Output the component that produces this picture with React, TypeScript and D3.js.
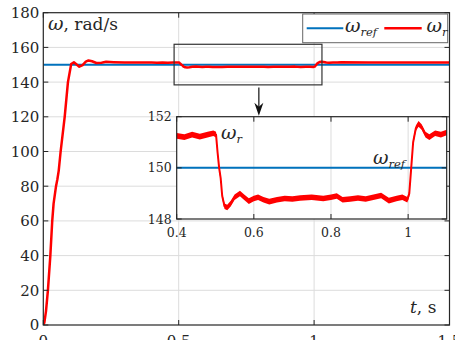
import React from 'react';
import * as d3 from 'd3';

// measured rotor speed (rad/s) vs time (s)
const timeS = [
  0, 0.004, 0.01, 0.017, 0.026, 0.033, 0.038, 0.047, 0.052, 0.057, 0.064, 0.079, 0.091,
  0.103, 0.113, 0.122, 0.133, 0.145, 0.157, 0.167, 0.18, 0.196, 0.215, 0.232, 0.26, 0.3, 0.35,
  0.4, 0.42, 0.44, 0.46, 0.48, 0.495, 0.502, 0.506, 0.51, 0.514, 0.518, 0.524, 0.531, 0.54,
  0.55, 0.564, 0.575, 0.587, 0.6, 0.611, 0.625, 0.64, 0.66, 0.68, 0.7, 0.72, 0.75, 0.78, 0.8,
  0.815, 0.83, 0.85, 0.87, 0.89, 0.91, 0.93, 0.95, 0.97, 0.985, 0.998, 1.003, 1.008, 1.013,
  1.02, 1.027, 1.035, 1.045, 1.055, 1.07, 1.085, 1.1, 1.2, 1.3, 1.4, 1.5,
];
const omegaR = [
  0, 1.5, 8, 20, 40, 60, 70, 80, 84, 89, 100, 120, 140,
  150.4, 151.4, 150.3, 148.9, 149.8, 151.8, 152.5, 152.0, 151.0, 151.2, 151.7, 151.5, 151.3, 151.3,
  151.25, 151.2, 151.3, 151.22, 151.3, 151.35, 151.3, 150.6, 150.0, 149.6, 148.9, 148.5, 148.45, 148.6,
  148.85, 149.0, 148.85, 148.7, 148.8, 148.85, 148.75, 148.68, 148.75, 148.8, 148.78, 148.82, 148.85, 148.8, 148.85,
  148.9, 148.75, 148.78, 148.82, 148.78, 148.85, 148.92, 148.72, 148.8, 148.85, 148.75, 149.0, 150.0, 151.0,
  151.55, 151.72, 151.6, 151.3, 151.2, 151.35, 151.3, 151.38, 151.3, 151.3, 151.3, 151.3,
];
const refTime = [0, 1.5];
const omegaRef = [150, 150];

const xTicks = [0, 0.5, 1, 1.5];
const xTickLabels = ['0', '0.5', '1', '1.5'];
const yTicks = [0, 20, 40, 60, 80, 100, 120, 140, 160, 180];
const insetXTicks = [0.4, 0.6, 0.8, 1];
const insetXTickLabels = ['0.4', '0.6', '0.8', '1'];
const insetYTicks = [148, 150, 152];
const zoomTime = [0.483, 1.029];
const zoomOmega = [138.4, 161.8];

const W = 455;
const H = 340;
const main = { left: 43.3, right: 449.5, top: 12.7, bottom: 325 };
const inset = { left: 176.7, right: 446.7, top: 116.7, bottom: 219 };

const FONT = "'DejaVu Serif', serif";
const BLUE = '#0072BD';
const RED = '#FF0000';
const GRID = '#dcdcdc';
const INK = '#262626';

const App = () => {
  const x = d3.scaleLinear().domain([0, 1.5]).range([main.left, main.right]);
  const y = d3.scaleLinear().domain([0, 180]).range([main.bottom, main.top]);
  const xi = d3.scaleLinear().domain([0.4, 1.1]).range([inset.left, inset.right]);
  const yi = d3.scaleLinear().domain([148, 152]).range([inset.bottom, inset.top]);

  const pts = timeS.map((t, i) => [t, omegaR[i]] as [number, number]);
  const refPts = refTime.map((t, i) => [t, omegaRef[i]] as [number, number]);

  const mainLine = d3.line<[number, number]>().x(d => x(d[0])).y(d => y(d[1]));
  const insetLine = d3.line<[number, number]>().x(d => xi(d[0])).y(d => yi(d[1]));
  // thick band that stands in for the ripple on the measured signal
  const insetBand = d3.area<[number, number]>()
    .x(d => xi(d[0]))
    .y0(d => yi(d[1]) - 2.8)
    .y1(d => yi(d[1]) + 2.8);

  const tk = 5;
  const arrowX = x(0.796);
  const arrowY1 = y(zoomOmega[0]) + 2.5;
  const arrowY2 = inset.top - 1;

  return (
    <svg width={W} height={H} style={{ position: 'absolute', left: 0, top: 0, fontFamily: FONT }}>
      <defs>
        <clipPath id="mainClip">
          <rect x={main.left} y={main.top} width={main.right - main.left} height={main.bottom - main.top} />
        </clipPath>
        <clipPath id="insetClip">
          <rect x={inset.left} y={inset.top} width={inset.right - inset.left} height={inset.bottom - inset.top} />
        </clipPath>
      </defs>
      <rect width={W} height={H} fill="#fff" />

      {/* main grid */}
      {yTicks.slice(1, -1).map(v => (
        <line key={'gy' + v} x1={main.left} x2={main.right} y1={y(v)} y2={y(v)} stroke={GRID} strokeWidth={1} />
      ))}
      {xTicks.slice(1, -1).map(v => (
        <line key={'gx' + v} x1={x(v)} x2={x(v)} y1={main.top} y2={main.bottom} stroke={GRID} strokeWidth={1} />
      ))}

      {/* main series */}
      <g clipPath="url(#mainClip)">
        <path d={mainLine(refPts) || ''} fill="none" stroke={BLUE} strokeWidth={2} />
        <path d={mainLine(pts) || ''} fill="none" stroke={RED} strokeWidth={2.5} strokeLinejoin="round" />
      </g>

      {/* main box and ticks */}
      <rect x={main.left} y={main.top} width={main.right - main.left} height={main.bottom - main.top}
        fill="none" stroke={INK} strokeWidth={1.2} />
      {yTicks.map(v => (
        <g key={'ty' + v}>
          <line x1={main.left} x2={main.left + tk} y1={y(v)} y2={y(v)} stroke={INK} />
          <line x1={main.right} x2={main.right - tk} y1={y(v)} y2={y(v)} stroke={INK} />
          <text x={main.left - 4} y={y(v)} dy="0.36em" textAnchor="end" fontSize={15} fill={INK}>{v}</text>
        </g>
      ))}
      {xTicks.map((v, i) => (
        <g key={'tx' + v}>
          <line x1={x(v)} x2={x(v)} y1={main.bottom} y2={main.bottom - tk} stroke={INK} />
          <line x1={x(v)} x2={x(v)} y1={main.top} y2={main.top + tk} stroke={INK} />
          <text x={x(v)} y={main.bottom + 21} textAnchor="middle" fontSize={15} fill={INK}>{xTickLabels[i]}</text>
        </g>
      ))}

      {/* axis captions */}
      <text x={48} y={30} fontSize={17} fill={INK}>
        <tspan fontStyle="italic" fontSize={19}>ω</tspan>, rad/s
      </text>
      <text x={410} y={313} fontSize={17} fill={INK}>
        <tspan fontStyle="italic">t</tspan>, s
      </text>

      {/* legend */}
      <rect x={302.7} y={14} width={145} height={28.7} fill="#fff" stroke="#666" strokeWidth={1} />
      <line x1={306.7} x2={343.3} y1={28.3} y2={28.3} stroke={BLUE} strokeWidth={2} />
      <text x={345} y={32} fontSize={19} fontStyle="italic" fill={INK}>
        ω<tspan fontSize={11.5} dy={4}>ref</tspan>
      </text>
      <line x1={384.3} x2={421.7} y1={28.3} y2={28.3} stroke={RED} strokeWidth={2.5} />
      <text x={426.5} y={32} fontSize={19} fontStyle="italic" fill={INK}>
        ω<tspan fontSize={11.5} dy={4}>r</tspan>
      </text>

      {/* zoom region and arrow */}
      <rect x={x(zoomTime[0])} y={y(zoomOmega[1])} width={x(zoomTime[1]) - x(zoomTime[0])}
        height={y(zoomOmega[0]) - y(zoomOmega[1])} fill="none" stroke="#333" strokeWidth={1.2} />
      <line x1={arrowX} x2={arrowX} y1={arrowY1} y2={arrowY2 - 8} stroke="#111" strokeWidth={1.2} />
      <path d={`M${arrowX},${arrowY2} L${arrowX - 4.5},${arrowY2 - 13} L${arrowX},${arrowY2 - 9} L${arrowX + 4.5},${arrowY2 - 13} Z`}
        fill="#111" />

      {/* inset */}
      <rect x={inset.left} y={inset.top} width={inset.right - inset.left} height={inset.bottom - inset.top} fill="#fff" />
      {insetXTicks.slice(1).map(v => (
        <line key={'igx' + v} x1={xi(v)} x2={xi(v)} y1={inset.top} y2={inset.bottom} stroke={GRID} strokeWidth={1} />
      ))}
      <line x1={inset.left} x2={inset.right} y1={yi(150)} y2={yi(150)} stroke={GRID} strokeWidth={1} />
      <g clipPath="url(#insetClip)">
        <path d={insetLine(refPts) || ''} fill="none" stroke={BLUE} strokeWidth={2} />
        <path d={insetBand(pts) || ''} fill={RED} stroke="none" />
        <path d={insetLine(pts) || ''} fill="none" stroke={RED} strokeWidth={2} strokeLinejoin="round" />
      </g>
      <rect x={inset.left} y={inset.top} width={inset.right - inset.left} height={inset.bottom - inset.top}
        fill="none" stroke={INK} strokeWidth={1.2} />
      {insetYTicks.map(v => (
        <g key={'ity' + v}>
          <line x1={inset.left} x2={inset.left + tk} y1={yi(v)} y2={yi(v)} stroke={INK} />
          <line x1={inset.right} x2={inset.right - tk} y1={yi(v)} y2={yi(v)} stroke={INK} />
          <text x={inset.left - 5} y={yi(v)} dy="0.36em" textAnchor="end" fontSize={12.5} fill={INK}>{v}</text>
        </g>
      ))}
      {insetXTicks.map((v, i) => (
        <g key={'itx' + v}>
          <line x1={xi(v)} x2={xi(v)} y1={inset.bottom} y2={inset.bottom - tk} stroke={INK} />
          <line x1={xi(v)} x2={xi(v)} y1={inset.top} y2={inset.top + tk} stroke={INK} />
          <text x={xi(v)} y={inset.bottom + 18} textAnchor="middle" fontSize={12.5} fill={INK}>{insetXTickLabels[i]}</text>
        </g>
      ))}
      <text x={221} y={139} fontSize={19} fontStyle="italic" fill={INK}>
        ω<tspan fontSize={11.5} dy={4}>r</tspan>
      </text>
      <text x={373} y={164} fontSize={19} fontStyle="italic" fill={INK}>
        ω<tspan fontSize={11.5} dy={4}>ref</tspan>
      </text>
    </svg>
  );
};

export default App;
